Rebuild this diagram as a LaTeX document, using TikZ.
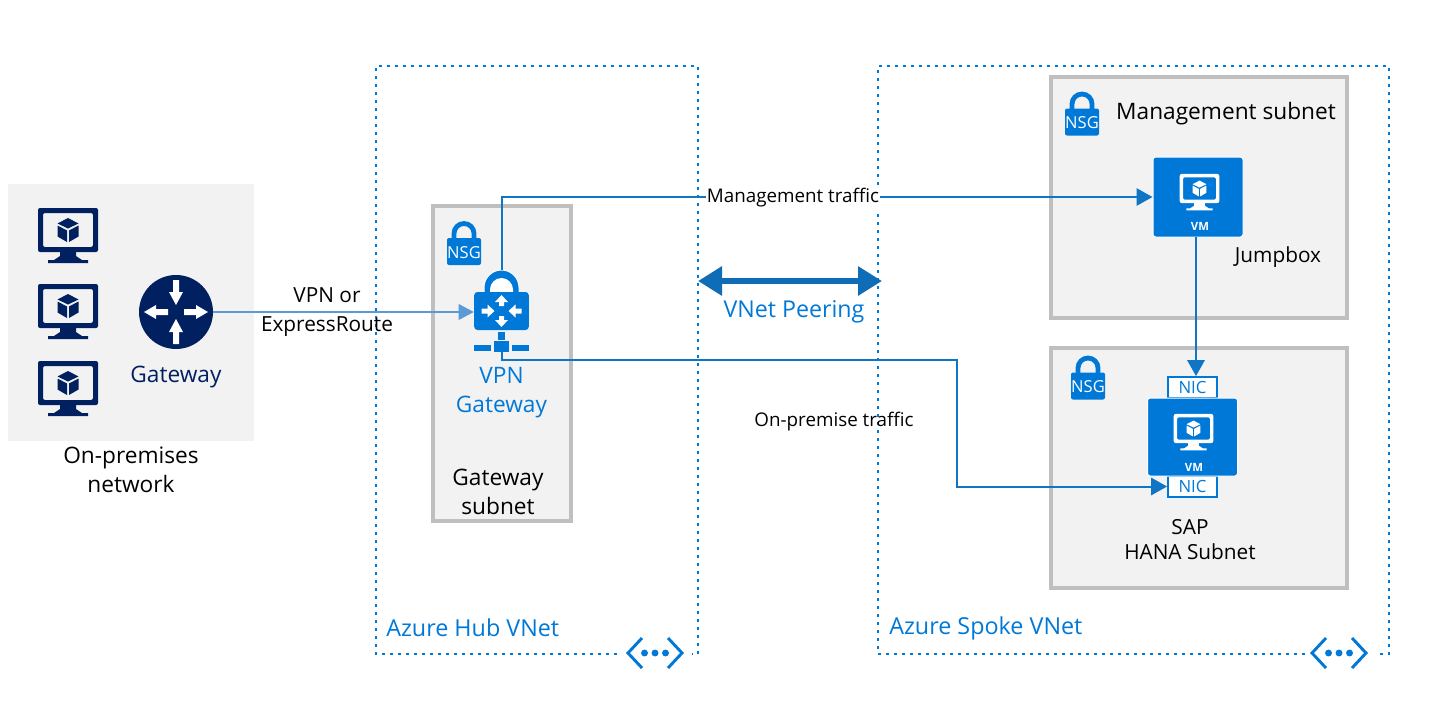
\documentclass[tikz,border=0pt]{standalone}
\usepackage{fontspec}
\setmainfont{Open Sans}
\usetikzlibrary{arrows.meta}
\definecolor{azureblue}{HTML}{0078D7}
\definecolor{linkblue}{HTML}{0F75C4}
\definecolor{vpnblue}{HTML}{5B9BD5}
\definecolor{peerblue}{HTML}{0F6CB6}
\definecolor{navyicon}{HTML}{002060}
\definecolor{panelgrey}{HTML}{F2F2F2}
\definecolor{subnetgrey}{HTML}{BFBFBF}

\tikzset{
  pics/monitor/.style={code={
    \fill[#1,even odd rule,rounded corners=1.5pt] (-30,-22) rectangle (30,22) (-25,-17) rectangle (25,17);
    \fill[#1] (-8,22) -- (8,22) -- (8,26) -- (14,30) -- (20,30) -- (20,33) -- (-20,33) -- (-20,30) -- (-14,30) -- (-8,26) -- cycle;
    \fill[#1] (0,-12) -- (10.5,-6.5) -- (0,-1.5) -- (-10.5,-6.5) -- cycle;
    \fill[#1] (-10.5,-4.5) -- (-1,0.5) -- (-1,12) -- (-10.5,6.5) -- cycle;
    \fill[#1] (10.5,-4.5) -- (1,0.5) -- (1,12) -- (10.5,6.5) -- cycle;
  }},
  pics/crossarrows/.style={code={
    \foreach \a/\b in {0/0,180/0,90/1,270/1} {
      \ifnum\b=0
        \fill[white,rotate=\a] (8,-3) -- (20,-3) -- (20,-7) -- (32,0) -- (20,7) -- (20,3) -- (8,3) -- cycle;
      \else
        \fill[white,rotate=\a] (32,-3) -- (20,-3) -- (20,-7) -- (7,0) -- (20,7) -- (20,3) -- (32,3) -- cycle;
      \fi
    }
  }},
  pics/lockarrows/.style={code={
    \foreach \a/\b in {0/1,180/1,90/0,270/0} {
      \ifnum\b=0
        \fill[white,rotate=\a] (5,-2.5) -- (9,-2.5) -- (9,-6.5) -- (16,0) -- (9,6.5) -- (9,2.5) -- (5,2.5) -- cycle;
      \else
        \fill[white,rotate=\a] (20,-2.5) -- (14,-2.5) -- (14,-6.5) -- (7,0) -- (14,6.5) -- (14,2.5) -- (20,2.5) -- cycle;
      \fi
    }
  }},
  pics/nsglock/.style={code={
    \draw[azureblue,line width=3.6pt] (-10,-12) -- (-10,-18) arc[start angle=180,end angle=360,radius=10] -- (10,-12);
    \fill[azureblue,rounded corners=1.5pt] (-17,-13.5) rectangle (17,13.5);
    \node[text=white,font=\fontsize{12.4}{14}\selectfont,inner sep=0pt] (label) at (0,1) {NSG};
  }},
  pics/peerchevron/.style={code={
    \draw[azureblue,line width=2.2pt] (-13,-15) -- (-27,0) -- (-13,15);
    \draw[azureblue,line width=2.2pt] (13,-15) -- (27,0) -- (13,15);
    \foreach \p in {-10.5,0,10.5} {
      \fill[azureblue] (\p,0) circle[radius=2.6pt];
    }
  }}
}

\begin{document}
\begin{tikzpicture}[
  x=0.75pt,
  y=-0.75pt,
  line join=miter,
  vnet/.style={draw=azureblue,line width=1.9pt,dash pattern=on 1.9pt off 4.1pt},
  subnet/.style={draw=subnetgrey,line width=2.6pt,fill=panelgrey},
  traffic/.style={draw=linkblue,line width=1.5pt,-{Triangle[length=12pt,width=13pt]}},
  vpnlink/.style={draw=vpnblue,line width=2.2pt,-{Triangle[length=11.5pt,width=11.5pt]}},
  peerlink/.style={draw=peerblue,line width=5pt,{Triangle[length=18pt,width=21pt]}-{Triangle[length=18pt,width=21pt]}},
  vmbox/.style={fill=azureblue,draw=white,line width=0.75pt,rounded corners=2pt,minimum width=67.5pt,minimum height=60pt,inner sep=0pt},
  nicbox/.style={fill=white,draw=azureblue,line width=1.1pt,text=azureblue,font=\fontsize{12.6}{15}\selectfont,minimum width=37pt,minimum height=16pt,inner sep=0pt},
  vmtext/.style={text=white,font=\bfseries\fontsize{8.5}{10}\selectfont,inner sep=0pt},
  bigtext/.style={font=\fontsize{17}{21.75}\selectfont,align=center,inner sep=0pt},
  midtext/.style={font=\fontsize{15.6}{21.75}\selectfont,align=center,inner sep=0pt},
  smalltext/.style={font=\fontsize{14.1}{16}\selectfont,inner sep=1pt}
]
  \useasboundingbox (0,0) rectangle (1431,700);

  % Dotted virtual network frames, open where the icon sits.
  \draw[vnet] (617,654) -- (376,654) -- (376,66) -- (698,66) -- (698,654) -- (692,654);
  \draw[vnet] (1305,654) -- (878,654) -- (878,66) -- (1389,66) -- (1389,654) -- (1378,654);
  \pic at (655,653) {peerchevron};
  \pic at (1339,653) {peerchevron};

  % On-premises panel.
  \fill[panelgrey] (8,184) rectangle (254,441);
  \foreach \y in {230,306,383} {
    \pic at (68,\y) {monitor=navyicon};
  }
  \node[circle,fill=navyicon,minimum size=55.5pt,inner sep=0pt] (gateway) at (176,312) {};
  \pic at (176,312) {crossarrows};
  \node[bigtext,text=navyicon] (gatewaytext) at (176,377) {Gateway};
  \node[bigtext] (onpremtext) at (131,470) {On-premises\\network};

  % Subnet panels.
  \draw[subnet] (433,206) rectangle (571,521);
  \draw[subnet] (1051,77) rectangle (1347,318);
  \draw[subnet] (1051,348) rectangle (1347,588);
  \pic (hubnsg) at (464,251.5) {nsglock};
  \pic (mgmtnsg) at (1082,122) {nsglock};
  \pic (hanansg) at (1088,386) {nsglock};

  % VPN gateway lock and its network mark.
  \coordinate (vpntop) at (501.5,270);
  \fill[azureblue,draw=white,line width=0.75pt] (484,295) -- (484,287.5) arc[start angle=180,end angle=360,radius=17.5] -- (519,295) -- cycle;
  \fill[white] (490,293) -- (490,289.5) arc[start angle=180,end angle=360,radius=11.5] -- (513,293) -- cycle;
  \node[fill=azureblue,rounded corners=2.5pt,minimum width=41pt,minimum height=28.5pt,inner sep=0pt] (vpnbody) at (501.5,311) {};
  \pic at (501.5,311) {lockarrows};
  \fill[azureblue] (498,332) rectangle (505,340);
  \node[fill=azureblue,minimum width=11.5pt,minimum height=8.5pt,inner sep=0pt] (netmark) at (501.5,346.5) {};
  \fill[azureblue] (474,345) rectangle (491,351);
  \fill[azureblue] (512,345) rectangle (529,351);
  \node[bigtext,text=azureblue] (vpntext) at (501.5,393) {VPN\\Gateway};
  \node[bigtext] (gwsubnettext) at (498,492) {Gateway\\subnet};

  % Virtual machines.
  \node[vmbox] (vmjump) at (1198,197) {};
  \pic[scale=0.66] at (1199.5,188.5) {monitor=white};
  \node[vmtext] (vmjumptext) at (1200,226) {VM};
  \node[nicbox] (nictop) at (1192.5,387.5) {NIC};
  \node[nicbox] (nicbottom) at (1192.5,486.5) {NIC};
  \node[vmbox,minimum height=58.5pt] (vmhana) at (1192.5,437) {};
  \pic[scale=0.66] at (1193.5,428.5) {monitor=white};
  \node[vmtext] (vmhanatext) at (1194,467) {VM};
  \coordinate (jumpdrop) at (1196,237);
  \coordinate (trafficturn) at (957,360);

  % Connectors.
  \draw[vpnlink] (gateway.east) -- (gateway.east -| vpnbody.west);
  \draw[traffic] (vpntop) |- (vmjump.west);
  \draw[traffic] (jumpdrop) -- (jumpdrop |- nictop.north);
  \draw[traffic] (netmark.south) |- (trafficturn) |- (nicbottom.west);
  \coordinate (peerleft) at (698,281);
  \coordinate (peerright) at (882,281);
  \draw[peerlink] (peerleft) -- (peerright);

  % Labels.
  \node[smalltext,fill=white] (mgmttraffic) at (793,198) {Management traffic};
  \node[smalltext] (onpremtraffic) at (834,422) {On-premise traffic};
  \node[midtext] (vpnortext) at (327,312) {VPN or\\ExpressRoute};
  \node[bigtext,font=\fontsize{17.4}{21.75}\selectfont,text=azureblue] (peeringtext) at (794,312) {VNet Peering};
  \node[bigtext,font=\fontsize{17.5}{21.75}\selectfont,text=azureblue,anchor=west] (hubtext) at (386,628) {Azure Hub VNet};
  \node[bigtext,font=\fontsize{17.5}{21.75}\selectfont,text=azureblue,anchor=west] (spoketext) at (889,628) {Azure Spoke VNet};
  \node[bigtext] (mgmttext) at (1226,114) {Management subnet};
  \node[midtext] (jumptext) at (1278,257) {Jumpbox};
  \node[midtext,font=\fontsize{15.6}{18.75}\selectfont] (hanatext) at (1190,540) {SAP\\HANA Subnet};
\end{tikzpicture}
\end{document}
